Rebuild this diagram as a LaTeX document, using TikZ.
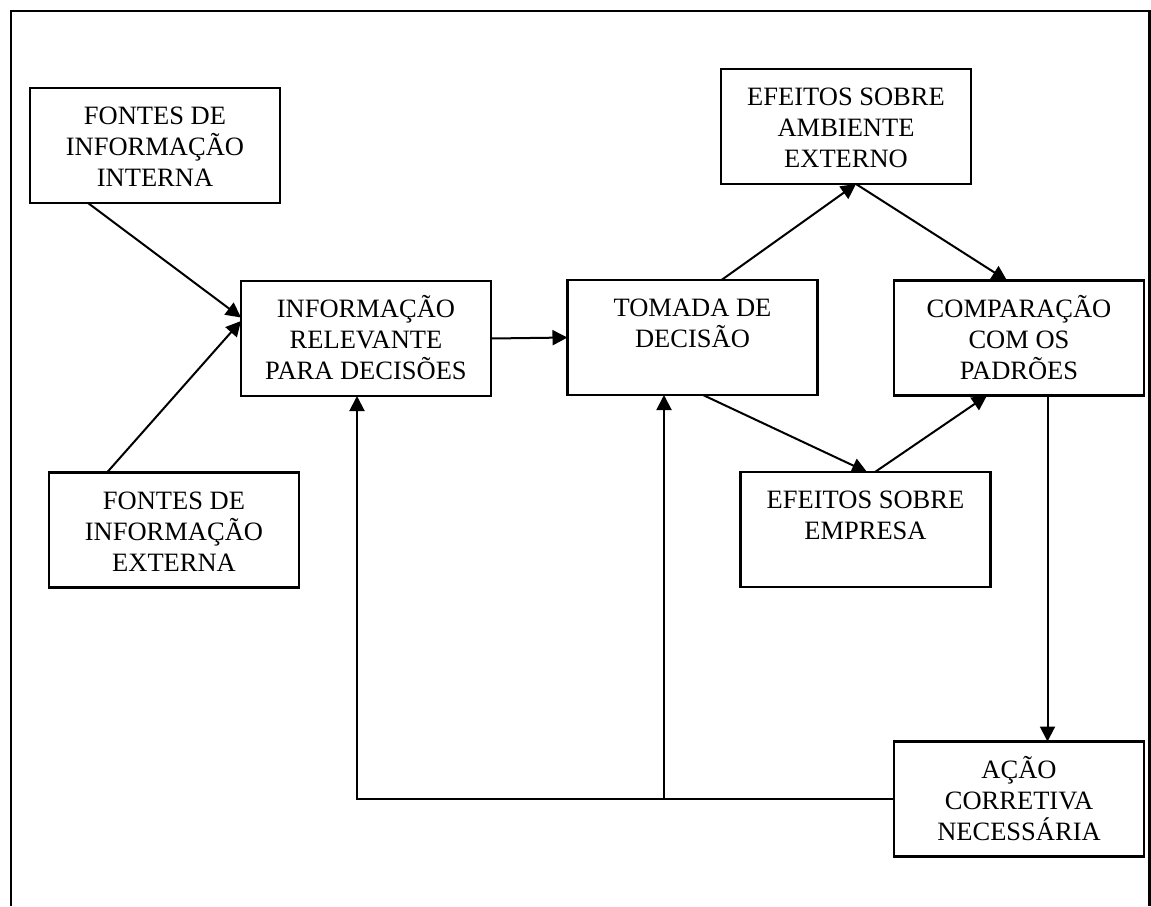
\documentclass[tikz,border=0pt]{standalone}
\usepackage{fontspec}
\setmainfont{Liberation Serif}
\usetikzlibrary{arrows.meta,calc}
\newcommand{\fl}{\rule{0pt}{25pt}}
\tikzset{
  box/.style={draw, line width=2.2pt, rectangle, minimum width=250pt, minimum height=115pt, inner sep=0pt, outer sep=0pt},
  lbl/.style={anchor=north, inner sep=0pt, yshift=-11.5pt, align=center, font=\fontsize{26.5pt}{31pt}\selectfont},
  conn/.style={line width=2pt, -{Triangle[length=15pt,width=15pt]}},
}
\begin{document}
\begin{tikzpicture}[x=1pt,y=-1pt]
\useasboundingbox (0,0) rectangle (1151,906);
\draw[line width=2.4pt] (11,906) -- (11,11) -- (1149.5,11) -- (1149.5,906);

\node[box, label={[lbl]north:\fl FONTES DE\\INFORMAÇÃO\\INTERNA}] (fi) at (155,145.5) {};
\node[box, label={[lbl]north:\fl FONTES DE\\INFORMAÇÃO\\EXTERNA}] (fe) at (174,530) {};
\node[box, label={[lbl]north:\fl INFORMAÇÃO\\RELEVANTE\\PARA DECISÕES}] (ir) at (366,338.5) {};
\node[box, label={[lbl]north:\fl TOMADA DE\\DECISÃO}] (td) at (692.5,337.5) {};
\node[box, label={[lbl]north:\fl EFEITOS SOBRE\\AMBIENTE\\EXTERNO}] (ea) at (846,126.5) {};
\node[box, label={[lbl]north:\fl COMPARAÇÃO\\COM OS\\PADRÕES}] (cp) at (1019,338) {};
\node[box, label={[lbl]north:\fl EFEITOS SOBRE\\EMPRESA}] (ee) at (865.5,529.5) {};
\node[box, label={[lbl]north:\fl AÇÃO\\CORRETIVA\\NECESSÁRIA}] (ac) at (1019,799) {};

\draw[conn] ([xshift=-67pt]fi.south) -- ([yshift=21pt]ir.west);
\draw[conn] ([xshift=-67pt]fe.north) -- ([yshift=17.5pt]ir.west);
\draw[conn] (ir.east) -- (td.west);
\draw[conn] ([xshift=154pt]td.north west) -- ([xshift=10pt]ea.south);
\draw[conn] ([xshift=10pt]ea.south) -- ([xshift=-12pt]cp.north);
\draw[conn] ([xshift=10.5pt]td.south) -- ([xshift=1.5pt]ee.north);
\draw[conn] ([xshift=9.5pt]ee.north) -- ([xshift=-32pt]cp.south);
\draw[conn] ([xshift=28.5pt]cp.south) -- ([xshift=28.5pt]cp.south |- ac.north);
\draw[conn] (ac.west) -| ([xshift=-9pt]ir.south);
\coordinate (j) at ([xshift=-28.5pt]td.south |- ac.west);
\draw[conn] (j) -- ([xshift=-28.5pt]td.south);
\end{tikzpicture}
\end{document}
